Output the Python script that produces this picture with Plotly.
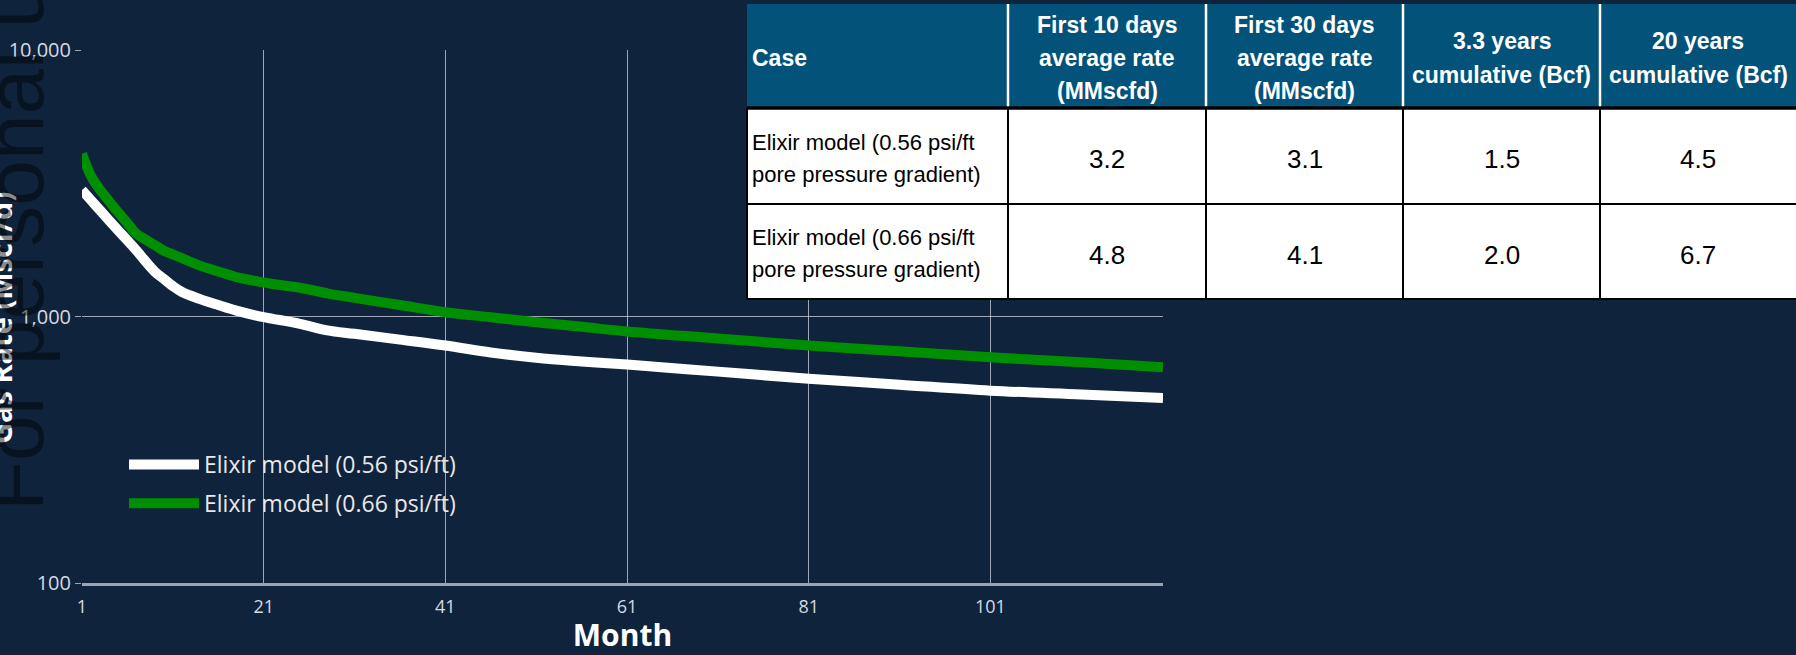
import plotly.graph_objects as go

# ---------------- data ----------------
months = [1, 2, 3, 4, 5, 6, 7, 8, 9, 10, 11, 12, 14, 16, 18, 21, 22, 25, 28, 31,
          36, 41, 46, 51, 56, 61, 71, 81, 91, 101, 111, 120]
rate_056 = [2980, 2730, 2500, 2290, 2100, 1930, 1770, 1610, 1475, 1385, 1300, 1236,
            1162, 1104, 1052, 994, 980, 939, 887, 861, 819, 778, 733, 700, 678, 660,
            621, 584, 555, 527, 510, 495]
rate_066 = [4080, 3365, 2986, 2704, 2455, 2239, 2043, 1945, 1854, 1766, 1710, 1656,
            1552, 1475, 1406, 1343, 1324, 1282, 1222, 1175, 1104, 1038, 994, 952, 915,
            879, 827, 778, 740, 703, 673, 645]
series_names = ["Elixir model (0.56 psi/ft)", "Elixir model (0.66 psi/ft)"]

x_tickvals = [1, 21, 41, 61, 81, 101]
y_tickvals = [100, 1000, 10000]
y_ticktext = ["100", "1,000", "10,000"]

table_header = ["Case", "First 10 days<br>average rate<br>(MMscfd)",
                "First 30 days<br>average rate<br>(MMscfd)",
                "3.3 years<br>cumulative (Bcf)", "20 years<br>cumulative (Bcf)"]
case_labels = ["Elixir model (0.56 psi/ft<br>pore pressure gradient)",
               "Elixir model (0.66 psi/ft<br>pore pressure gradient)"]
first10_rate = [3.2, 4.8]
first30_rate = [3.1, 4.1]
cum_3_3yr = [1.5, 2.0]
cum_20yr = [4.5, 6.7]

# ---------------- style / layout constants ----------------
W, H = 1796, 655
BG = "#10233d"
GRID = "rgba(205,212,224,0.75)"
TICK = "#d6dae1"
GREEN = "#008f00"
HEAD_BG = "#02527a"
PL, PR, PT, PB = 82, 1163, 50, 583           # plot area in px
COL_EDGES = [747, 1008, 1206, 1403, 1600, 1796]
ROW_EDGES = [4, 108, 204, 299]
HEAD_LINE_GAP, BODY_LINE_GAP = 33, 32
TABLE_FONT = "Liberation Sans, Arial, sans-serif"


def fx(p):
    return p / W


def fy(p):
    return 1 - p / H


fig = go.Figure()
fig.add_trace(go.Scatter(x=months, y=rate_056, mode="lines", name=series_names[0],
                         line=dict(color="white", width=10, shape="spline", smoothing=1.0),
                         legendgroup="a"))
fig.add_trace(go.Scatter(x=months, y=rate_066, mode="lines", name=series_names[1],
                         line=dict(color=GREEN, width=10, shape="spline", smoothing=1.0),
                         legendgroup="b"))

fig.update_layout(
    width=W, height=H, margin=dict(l=0, r=0, t=0, b=0, autoexpand=False),
    paper_bgcolor=BG, plot_bgcolor=BG,
    showlegend=True,
    legend=dict(x=fx(124), y=fy(443), xanchor="left", yanchor="top",
                bgcolor="rgba(0,0,0,0)", tracegroupgap=6, itemwidth=70,
                font=dict(family="Open Sans", size=23, color="#e8e8e8")),
    xaxis=dict(domain=[fx(PL), fx(PR)], range=[1, 120], tickvals=x_tickvals,
               automargin=False,
               showgrid=True, gridcolor=GRID, gridwidth=1, zeroline=False,
               showline=True, linecolor="#9aa4b3", linewidth=3, ticks="",
               ticklabelstandoff=5,
               tickfont=dict(family="Open Sans", size=18, color=TICK),
               title=dict(text="Month", standoff=7,
                          font=dict(family="Open Sans", size=30, color="white", weight="bold"))),
    yaxis=dict(domain=[fy(PB), fy(PT)], type="log", range=[2, 4],
               tickvals=y_tickvals, ticktext=y_ticktext, automargin=False,
               showgrid=True, gridcolor=GRID, gridwidth=1, zeroline=False,
               showline=False, ticks="outside", ticklen=6, tickcolor=GRID,
               tickfont=dict(family="Open Sans", size=20, color=TICK)),
)

# ---------------- table (shapes + text) ----------------
x0, x1 = COL_EDGES[0], COL_EDGES[-1]
top, hb, bottom = ROW_EDGES[0], ROW_EDGES[1], ROW_EDGES[-1]
shapes = [
    dict(type="rect", x0=fx(x0), x1=fx(x1), y0=fy(top), y1=fy(hb),
         fillcolor=HEAD_BG, line=dict(width=0)),
    dict(type="rect", x0=fx(x0), x1=fx(x1), y0=fy(hb), y1=fy(bottom),
         fillcolor="white", line=dict(width=0)),
]
for c in COL_EDGES[1:-1]:
    shapes.append(dict(type="line", x0=fx(c), x1=fx(c), y0=fy(top), y1=fy(hb),
                       line=dict(color="white", width=2.5)))
for c in COL_EDGES[:-1]:
    shapes.append(dict(type="line", x0=fx(c), x1=fx(c), y0=fy(hb), y1=fy(bottom),
                       line=dict(color="black", width=2)))
for i, r in enumerate(ROW_EDGES[1:]):
    shapes.append(dict(type="line", x0=fx(x0), x1=fx(x1), y0=fy(r), y1=fy(r),
                       line=dict(color="black", width=3.5 if i == 0 else 2.2)))
for s in shapes:
    s.update(xref="paper", yref="paper", layer="above")
fig.update_layout(shapes=shapes)


def cell_text(text, col, r0, r1, gap, font, left=False):
    lines = text.split("<br>")
    mid = (r0 + r1) / 2 + 2
    n = len(lines)
    for k, ln in enumerate(lines):
        yc = mid + (k - (n - 1) / 2) * gap
        if left:
            xa, xpos = "left", COL_EDGES[col] + 3
        else:
            xa, xpos = "center", (COL_EDGES[col] + COL_EDGES[col + 1]) / 2
        fig.add_annotation(text=ln, x=fx(xpos), y=fy(yc), xref="paper", yref="paper",
                           xanchor=xa, yanchor="middle", showarrow=False, font=font)


head_font = dict(family=TABLE_FONT, size=23, color="white", weight="bold")
label_font = dict(family=TABLE_FONT, size=22, color="black")
num_font = dict(family=TABLE_FONT, size=26, color="black")
for j, h in enumerate(table_header):
    cell_text(h, j, top, hb, HEAD_LINE_GAP, head_font, left=(j == 0))
num_cols = [first10_rate, first30_rate, cum_3_3yr, cum_20yr]
for i, lab in enumerate(case_labels):
    r0, r1 = ROW_EDGES[i + 1], ROW_EDGES[i + 2]
    cell_text(lab, 0, r0, r1, BODY_LINE_GAP, label_font, left=True)
    for j, col in enumerate(num_cols):
        cell_text(f"{col[i]:.1f}", j + 1, r0 + 1, r1 + 1, BODY_LINE_GAP, num_font)

# ---------------- y-axis title and watermark ----------------
fig.add_annotation(text="<b>Gas Rate (Mscf/d)</b>", textangle=-90, showarrow=False,
                   xref="paper", yref="paper", x=fx(0), y=fy(318),
                   xanchor="center", yanchor="middle",
                   font=dict(family="Open Sans", size=29, color="white"))
fig.add_annotation(text="For personal use only", textangle=-90, showarrow=False,
                   xref="paper", yref="paper", x=fx(62), y=fy(513),
                   xanchor="right", yanchor="bottom",
                   font=dict(family="Liberation Sans, Arial", size=82,
                             color="rgba(0,0,0,0.45)"))

fig.write_html("out.html", config={"displayModeBar": False},
               post_script="document.body.style.margin='0px';")
